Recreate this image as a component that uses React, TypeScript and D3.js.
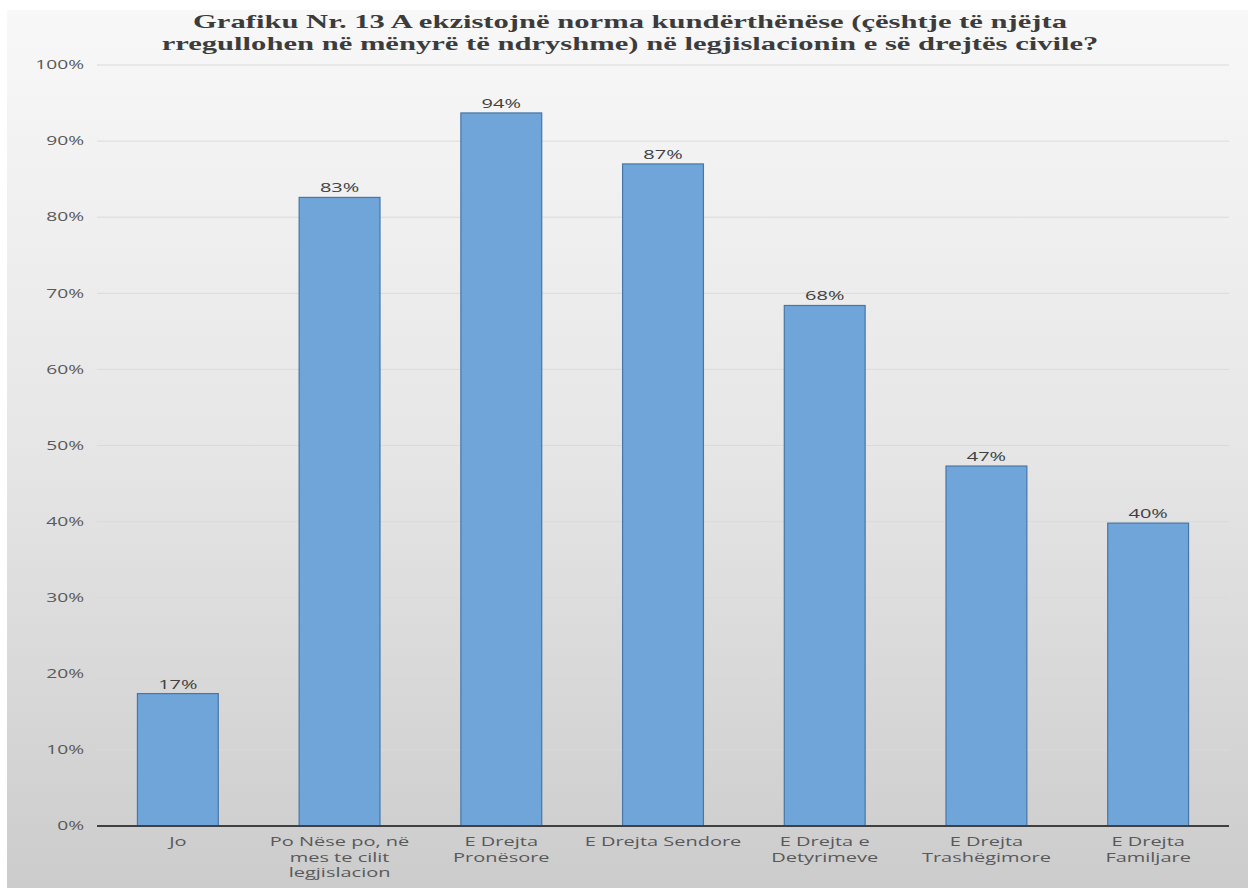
import React from "react";
import * as d3 from "d3";

const categories: string[][] = [
  ["Jo"],
  ["Po Nëse po, në", "mes te cilit", "legjislacion"],
  ["E Drejta", "Pronësore"],
  ["E Drejta Sendore"],
  ["E Drejta e", "Detyrimeve"],
  ["E Drejta", "Trashëgimore"],
  ["E Drejta", "Familjare"],
];
const values: number[] = [0.174, 0.826, 0.937, 0.87, 0.684, 0.473, 0.398];
const valueLabels: string[] = ["17%", "83%", "94%", "87%", "68%", "47%", "40%"];
const yTicks: number[] = [0, 0.1, 0.2, 0.3, 0.4, 0.5, 0.6, 0.7, 0.8, 0.9, 1.0];
const titleLines: string[] = [
  "Grafiku Nr. 13 A ekzistojnë norma kundërthënëse (çështje të njëjta",
  "rregullohen në mënyrë të ndryshme) në legjislacionin e së drejtës civile?",
];

const W = 1248;
const H = 888;
const plot = { left: 97, right: 1229, top: 65, bottom: 826 };
const SX = 1.6;

function SText(props: {
  x: number;
  y: number;
  anchor: "start" | "middle" | "end";
  size: number;
  fill: string;
  family: string;
  weight?: string;
  sx?: number;
  dy?: string;
  children: React.ReactNode;
}) {
  const s = props.sx ?? SX;
  return (
    <text
      transform={`translate(${props.x},${props.y}) scale(${s},1)`}
      textAnchor={props.anchor}
      fontSize={props.size}
      fill={props.fill}
      fontFamily={props.family}
      fontWeight={props.weight ?? "normal"}
      dy={props.dy}
    >
      {props.children}
    </text>
  );
}

export default function App() {
  const x = d3
    .scaleBand<number>()
    .domain(d3.range(values.length))
    .range([plot.left, plot.right])
    .paddingInner(0.5)
    .paddingOuter(0.25);
  const y = d3.scaleLinear().domain([0, 1]).range([plot.bottom, plot.top]);
  const fmt = d3.format(".0%");
  const font = "'Open Sans', 'Liberation Sans', sans-serif";
  const serif = "'Liberation Serif', 'DejaVu Serif', serif";

  return (
    <div style={{ position: "absolute", left: 0, top: 0 }}>
      <svg width={W} height={H} style={{ display: "block" }}>
        <defs>
          <linearGradient id="bg" x1="0" y1="0" x2="0" y2="1">
            <stop offset="0" stopColor="#f8f8f8" />
            <stop offset="0.5" stopColor="#e6e6e6" />
            <stop offset="1" stopColor="#cccccc" />
          </linearGradient>
        </defs>
        <rect x={0} y={0} width={W} height={H} fill="#ffffff" />
        <rect x={7} y={10} width={W - 7} height={H - 10} fill="url(#bg)" />

        {titleLines.map((t, i) => (
          <SText
            key={i}
            x={630}
            y={28 + i * 22}
            anchor="middle"
            family={serif}
            weight="bold"
            size={18}
            sx={1.7}
            fill="#3c3c3c"
          >
            {t}
          </SText>
        ))}

        {yTicks.map((t) => (
          <g key={t}>
            {t > 0 && (
              <line
                x1={plot.left}
                x2={plot.right}
                y1={y(t)}
                y2={y(t)}
                stroke="#dadada"
                strokeWidth={1}
              />
            )}
            <SText
              x={84}
              y={y(t)}
              dy="0.35em"
              anchor="end"
              family={font}
              size={12}
              fill="#595959"
            >
              {fmt(t)}
            </SText>
          </g>
        ))}

        {values.map((v, i) => (
          <g key={i}>
            <rect
              x={x(i)!}
              y={y(v)}
              width={x.bandwidth()}
              height={y(0) - y(v)}
              fill="#6fa5d9"
              stroke="#4677a8"
              strokeWidth={1.2}
            />
            <SText
              x={x(i)! + x.bandwidth() / 2}
              y={y(v) - 5}
              anchor="middle"
              family={font}
              size={12.5}
              fill="#404040"
            >
              {valueLabels[i]}
            </SText>
            {categories[i].map((line, j) => (
              <SText
                key={j}
                x={x(i)! + x.bandwidth() / 2}
                y={846 + j * 15.5}
                anchor="middle"
                family={font}
                size={12.5}
                fill="#595959"
              >
                {line}
              </SText>
            ))}
          </g>
        ))}

        <line
          x1={plot.left}
          x2={plot.right}
          y1={y(0)}
          y2={y(0)}
          stroke="#404040"
          strokeWidth={2}
        />
      </svg>
    </div>
  );
}
